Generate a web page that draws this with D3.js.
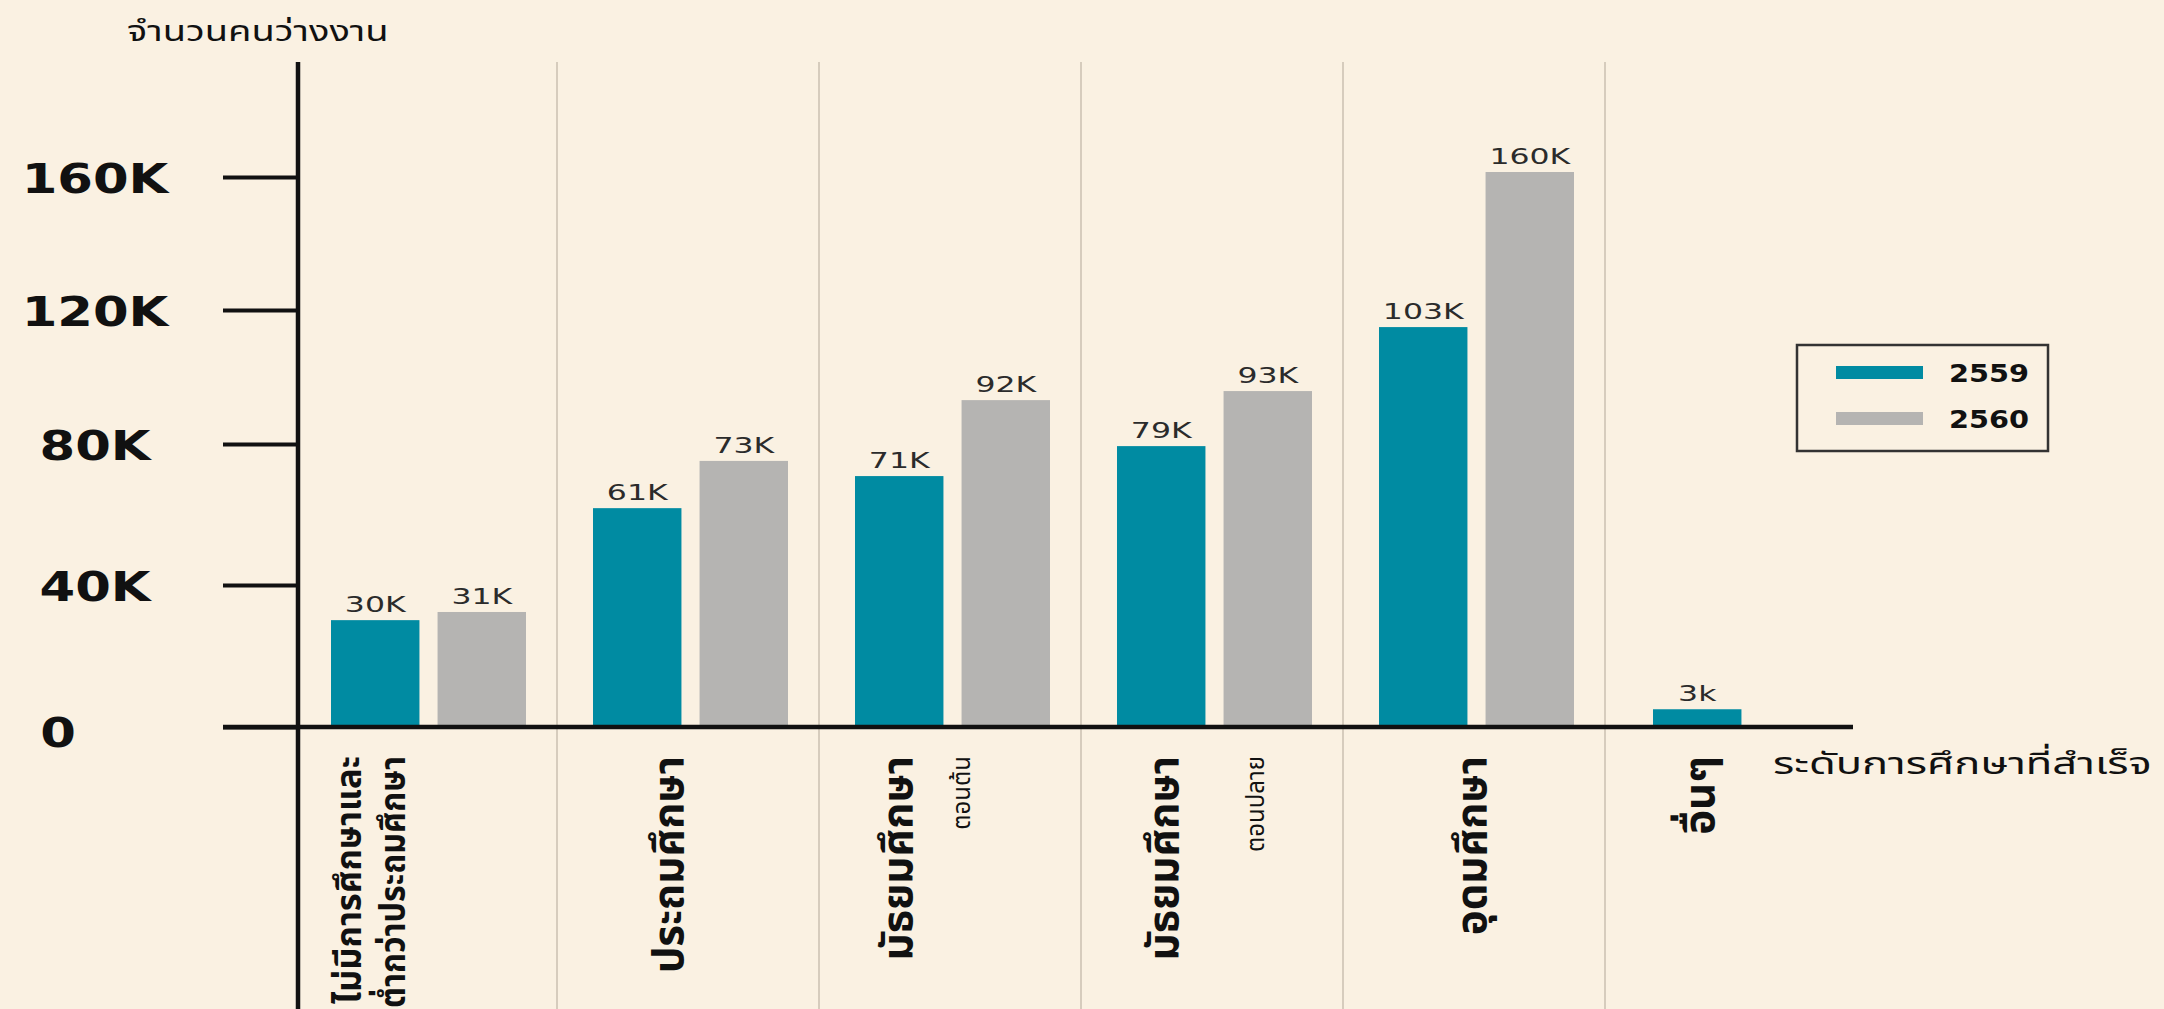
<!DOCTYPE html>
<html><head><meta charset="utf-8">
<script src="https://cdn.jsdelivr.net/npm/d3@7"></script>
<style>
html,body{margin:0;padding:0;background:#FAF1E2;}
svg{display:block;}
</style></head><body>
<svg id="chart" width="2164" height="1009"></svg>
<script>
// ---------- data ----------
const categories = ["ไม่มีการศึกษาและต่ำกว่าประถมศึกษา","ประถมศึกษา","มัธยมศึกษาตอนต้น","มัธยมศึกษาตอนปลาย","อุดมศึกษา","อื่นๆ"];
const categoryMain = [["ไม่มีการศึกษาและ","ต่ำกว่าประถมศึกษา"],["ประถมศึกษา"],["มัธยมศึกษา"],["มัธยมศึกษา"],["อุดมศึกษา"],["อื่นๆ"]];
const categorySub = ["","","ตอนต้น","ตอนปลาย","",""];
const series = ["2559","2560"];
const values2559 = [30.1, 61.8, 70.9, 79.4, 114.9, 5.0];   // thousand persons (bar heights)
const values2560 = [32.4, 75.2, 93.1, 95.8, 161.5, null];
const labels2559 = ["30K","61K","71K","79K","103K","3k"];
const labels2560 = ["31K","73K","92K","93K","160K",""];
const yTicks = [0, 40, 80, 120, 160];
const yTickLabels = ["0","40K","80K","120K","160K"];
const yTitle = "จำนวนคนว่างงาน";
const xTitle = "ระดับการศึกษาที่สำเร็จ";

// ---------- layout / style ----------
const W = 2164, H = 1009;
const BG = "#FAF1E2", TEAL = "#008BA2", GRAY = "#B5B4B2", INK = "#111";
const THAI = "'Noto Sans Thai','Noto Sans Thai UI','Noto Sans','DejaVu Sans',sans-serif";
const LAT = "'DejaVu Sans',sans-serif";
const mainDx = [[-76, -32], [-18], [-51], [-47], [-1], [-35]];
const mainLen = [[248, 252], [0], [0], [0], [0], [0]];
const mainSize = [35, 42, 42, 42, 42, 42];
const subDx = [0, 0, 13, 45, 0, 0];
const barDx = [0, 0, 0, 0, 0, 12];

const svg = d3.select("#chart");
svg.append("rect").attr("width", W).attr("height", H).attr("fill", BG);

const x0 = d3.scaleBand().domain(categories).range([295, 1867]);
const x1 = d3.scaleBand().domain(series).range([36, 231]).paddingInner(0.17);
const y = d3.scaleLinear().domain(yTicks).range([727, 585, 444, 310, 177]);
const color = d3.scaleOrdinal().domain(series).range([TEAL, GRAY]);

// dividers
svg.append("g").selectAll("line").data(categories.slice(1)).join("line")
  .attr("x1", d => x0(d)).attr("x2", d => x0(d))
  .attr("y1", 62).attr("y2", H)
  .attr("stroke", "#CDC3B4").attr("stroke-width", 1.6);

// bars
const rows = categories.map((c, i) => ({
  cat: c, i,
  vals: [
    {s: series[0], v: values2559[i], label: labels2559[i]},
    {s: series[1], v: values2560[i], label: labels2560[i]}
  ].filter(d => d.v != null)
}));
const cg = svg.append("g").selectAll("g").data(rows).join("g")
  .attr("transform", d => `translate(${x0(d.cat) + barDx[d.i]},0)`);
cg.selectAll("rect").data(d => d.vals).join("rect")
  .attr("x", d => x1(d.s)).attr("width", x1.bandwidth())
  .attr("y", d => y(d.v)).attr("height", d => y(0) - y(d.v))
  .attr("fill", d => color(d.s));
cg.selectAll("text").data(d => d.vals).join("text")
  .attr("transform", d => `translate(${x1(d.s) + x1.bandwidth() / 2},${y(d.v) - 8}) scale(1.5,1)`)
  .attr("text-anchor", "middle")
  .style("font-family", LAT).style("font-size", "21px").attr("fill", "#2b2b2b")
  .text(d => d.label);

// y axis
const yAxis = d3.axisLeft(y).tickValues(yTicks).tickSize(75).tickPadding(0)
  .tickFormat((d, i) => yTickLabels[i]);
const ya = svg.append("g").attr("transform", "translate(298,0)").call(yAxis);
ya.select(".domain").remove();
ya.selectAll(".tick line").attr("stroke", INK).attr("stroke-width", 4);
ya.selectAll(".tick text")
  .attr("x", null).attr("dy", null)
  .attr("transform", d => d === 0 ? "translate(-240,19) scale(1.25,1)" : "translate(-203,15) scale(1.25,1)")
  .attr("text-anchor", "middle")
  .style("font-family", LAT).style("font-size", "41px").style("font-weight", "bold")
  .attr("fill", INK);
svg.append("line").attr("x1", 298).attr("x2", 298).attr("y1", 62).attr("y2", H)
  .attr("stroke", INK).attr("stroke-width", 4.5);

// x axis
const xa = svg.append("g").attr("transform", `translate(0,${y(0)})`)
  .call(d3.axisBottom(x0).tickSize(0).tickFormat(""));
xa.select(".domain").remove();
svg.append("line").attr("x1", 223).attr("x2", 1853).attr("y1", y(0)).attr("y2", y(0))
  .attr("stroke", INK).attr("stroke-width", 4.5);

// category labels (rotated)
const lg = svg.append("g").selectAll("g").data(rows).join("g")
  .attr("transform", d => `translate(${x0(d.cat) + x0.bandwidth() / 2},756)`);
lg.each(function(d) {
  const g = d3.select(this);
  categoryMain[d.i].forEach((t, k) => {
    const tx = g.append("text")
      .attr("transform", `translate(${mainDx[d.i][k]},0) rotate(-90)`)
      .attr("text-anchor", "end").attr("dominant-baseline", "central")
      .style("font-family", THAI).style("font-weight", "bold")
      .style("font-size", mainSize[d.i] + "px").attr("fill", INK)
      .text(t);
    if (mainLen[d.i][k]) tx.attr("textLength", mainLen[d.i][k]).attr("lengthAdjust", "spacingAndGlyphs");
  });
  if (categorySub[d.i]) {
    g.append("text")
      .attr("transform", `translate(${subDx[d.i]},0) rotate(-90)`)
      .attr("text-anchor", "end").attr("dominant-baseline", "central")
      .style("font-family", THAI).style("font-size", "24px").attr("fill", INK)
      .text(categorySub[d.i]);
  }
});

// titles
svg.append("text").attr("transform", "translate(127,41) scale(1.36,1)")
  .style("font-family", THAI).style("font-size", "28px").attr("fill", INK).text(yTitle);
svg.append("text").attr("transform", "translate(1773,774) scale(1.45,1)")
  .style("font-family", THAI).style("font-size", "30px").attr("fill", INK).text(xTitle);

// legend
const leg = svg.append("g");
leg.append("rect").attr("x", 1797).attr("y", 345).attr("width", 251).attr("height", 106)
  .attr("fill", "none").attr("stroke", "#333").attr("stroke-width", 2.5);
series.forEach((s, i) => {
  leg.append("rect").attr("x", 1836).attr("y", 366 + i * 46).attr("width", 87).attr("height", 13)
    .attr("fill", color(s));
  leg.append("text").attr("transform", `translate(1949,${382 + i * 46}) scale(1.15,1)`)
    .style("font-family", LAT).style("font-weight", "bold").style("font-size", "25px")
    .attr("fill", INK).text(s);
});
</script>
</body></html>
